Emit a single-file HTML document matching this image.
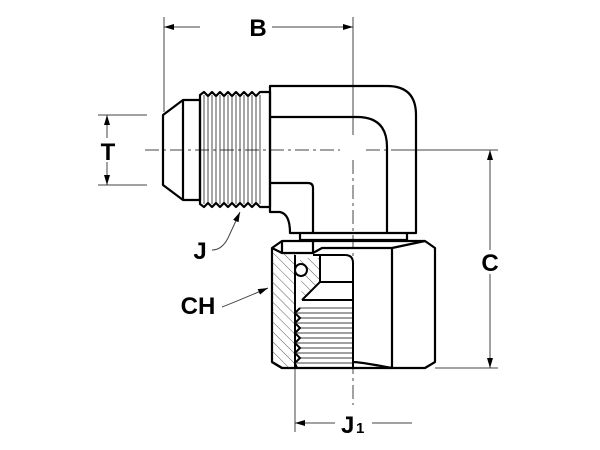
<!DOCTYPE html>
<html><head><style>
html,body{margin:0;padding:0;background:#fff;}
svg{display:block;}
text{font-family:"Liberation Sans",Arial,sans-serif;font-weight:bold;fill:#000;}
</style></head><body>
<svg width="600" height="450" viewBox="0 0 600 450" xmlns="http://www.w3.org/2000/svg">
<defs>
<pattern id="h" patternUnits="userSpaceOnUse" width="7" height="7" patternTransform="rotate(-45)">
<line x1="0" y1="0" x2="0" y2="7" stroke="#333" stroke-width="0.8"/>
</pattern>
<marker id="a" markerWidth="10" markerHeight="6" refX="10" refY="3" orient="auto" markerUnits="userSpaceOnUse">
<path d="M0,0 L10,3 L0,6 Z" fill="#000"/>
</marker>
</defs>

<g stroke="#444" stroke-width="1" fill="none">
<line x1="164" y1="17" x2="164" y2="112"/>
<line x1="353" y1="17" x2="353" y2="135"/>
<line x1="200" y1="27" x2="164" y2="27" marker-end="url(#a)"/>
<line x1="272" y1="27" x2="353" y2="27" marker-end="url(#a)"/>
<line x1="98" y1="115" x2="147" y2="115"/>
<line x1="98" y1="185" x2="147" y2="185"/>
<line x1="107" y1="138" x2="107" y2="115" marker-end="url(#a)"/>
<line x1="107" y1="162" x2="107" y2="185" marker-end="url(#a)"/>
<line x1="400" y1="150" x2="498" y2="150"/>
<line x1="435" y1="368" x2="498" y2="368"/>
<line x1="490" y1="250" x2="490" y2="150" marker-end="url(#a)"/>
<line x1="490" y1="274" x2="490" y2="368" marker-end="url(#a)"/>
<line x1="295" y1="368" x2="295" y2="432"/>
<line x1="335" y1="423" x2="295" y2="423" marker-end="url(#a)"/>
<line x1="372" y1="423" x2="412" y2="423"/>
<path d="M212,250 Q222,250 228,238 L240,212" marker-end="url(#a)"/>
<path d="M222,307 Q235,302 268,288" marker-end="url(#a)"/>
<line x1="145" y1="150" x2="340" y2="150" stroke-dasharray="14,4,3,4"/>
<line x1="366" y1="150" x2="440" y2="150" stroke-dasharray="14,4,3,4"/>
<line x1="353" y1="160" x2="353" y2="405" stroke-dasharray="14,4,3,4"/>
</g>

<g stroke="#000" stroke-width="2.2" fill="none" stroke-linejoin="round">
<path d="M183,100 L163,115 L163,185 L183,200 L200,200 L200,100 Z"/>
<line x1="183" y1="100" x2="183" y2="200"/>
<path d="M200,95 L204,92 L208,96 L212,92 L216,96 L220,92 L224,96 L228,92 L232,96 L236,92 L240,96 L244,92 L248,96 L252,92 L256,96 L260,92 L270,92 L270,207 L260,207 L256,203 L252,207 L248,203 L244,207 L240,203 L236,207 L232,203 L228,207 L224,203 L220,207 L216,203 L212,207 L208,203 L204,207 L200,204 Z"/>
</g>
<g stroke="#000" stroke-width="0.7">
<line x1="204" y1="95" x2="204" y2="204"/><line x1="208" y1="95" x2="208" y2="204"/>
<line x1="212" y1="95" x2="212" y2="204"/><line x1="216" y1="95" x2="216" y2="204"/>
<line x1="220" y1="95" x2="220" y2="204"/><line x1="224" y1="95" x2="224" y2="204"/>
<line x1="228" y1="95" x2="228" y2="204"/><line x1="232" y1="95" x2="232" y2="204"/>
<line x1="236" y1="95" x2="236" y2="204"/><line x1="240" y1="95" x2="240" y2="204"/>
<line x1="244" y1="95" x2="244" y2="204"/><line x1="248" y1="95" x2="248" y2="204"/>
<line x1="252" y1="95" x2="252" y2="204"/><line x1="256" y1="95" x2="256" y2="204"/>
<line x1="260" y1="95" x2="260" y2="204"/>
</g>

<g stroke="#000" stroke-width="2.2" fill="none" stroke-linejoin="round">
<path d="M270,212 L270,86 L387,86 Q416,86 416,115 L416,233 L300,233 L290,233 Q290,214 280,212 Z"/>
<path d="M270,117 L357,117 Q387,117 387,147 L387,233"/>
<path d="M270,183 L308,183 Q313,183 313,188 L313,233"/>
<path d="M300,233 L300,240 M407,233 L407,240 M300,240 L407,240"/>
</g>

<g stroke="#000" stroke-width="2.2" fill="none" stroke-linejoin="round">
<path d="M282,241 L425,241 L435,248 L435,362 L425,368 L282,368 L272,362 L272,248 Z"/>
<path d="M272,248 L282,253 L313,253 L322,248 L392,248 L425,241"/>
<path d="M282,253 L282,241 M313,253 L313,241 M392,248 L392,368"/>
<path d="M272,362 L282,368 M392,368 Q360,362 353,362"/>
</g>
<path d="M272,253 L295,253 L295,368 L282,368 L272,362 Z" fill="url(#h)" stroke="none"/>
<path d="M300,258 L320,258 L320,282 L302,300 Z" fill="url(#h)" stroke="none"/>
<g stroke="#000" stroke-width="2" fill="none">
<path d="M295,255 L295,368"/>
<path d="M320,255 L320,282 L302,300"/>
<path d="M313,255 L345,255 Q353,255 353,263 L353,368"/>
<path d="M320,282 L353,282"/>
<path d="M302,300 L353,300"/>
<circle cx="301" cy="270" r="6" fill="#fff"/>
<path d="M300,308 L295,313 L300,318 L295,323 L300,328 L295,333 L300,338 L295,343 L300,348 L295,353 L300,358 L295,363 L297,368"/>
</g>
<g stroke="#000" stroke-width="0.8">
<line x1="300" y1="308" x2="353" y2="308"/><line x1="297" y1="313" x2="353" y2="313"/>
<line x1="300" y1="318" x2="353" y2="318"/><line x1="297" y1="323" x2="353" y2="323"/>
<line x1="300" y1="328" x2="353" y2="328"/><line x1="297" y1="333" x2="353" y2="333"/>
<line x1="300" y1="338" x2="353" y2="338"/><line x1="297" y1="343" x2="353" y2="343"/>
<line x1="300" y1="348" x2="353" y2="348"/><line x1="297" y1="353" x2="353" y2="353"/>
<line x1="300" y1="358" x2="353" y2="358"/><line x1="297" y1="363" x2="353" y2="363"/>
</g>

<text x="258" y="36" font-size="24" text-anchor="middle">B</text>
<text x="108" y="160" font-size="24" text-anchor="middle">T</text>
<text x="490" y="271" font-size="24" text-anchor="middle">C</text>
<text x="200" y="259" font-size="24" text-anchor="middle">J</text>
<text x="198" y="314" font-size="24" text-anchor="middle">CH</text>
<text x="341" y="433" font-size="24">J</text>
<text x="356" y="433" font-size="15" font-weight="normal">1</text>
</svg>
</body></html>
